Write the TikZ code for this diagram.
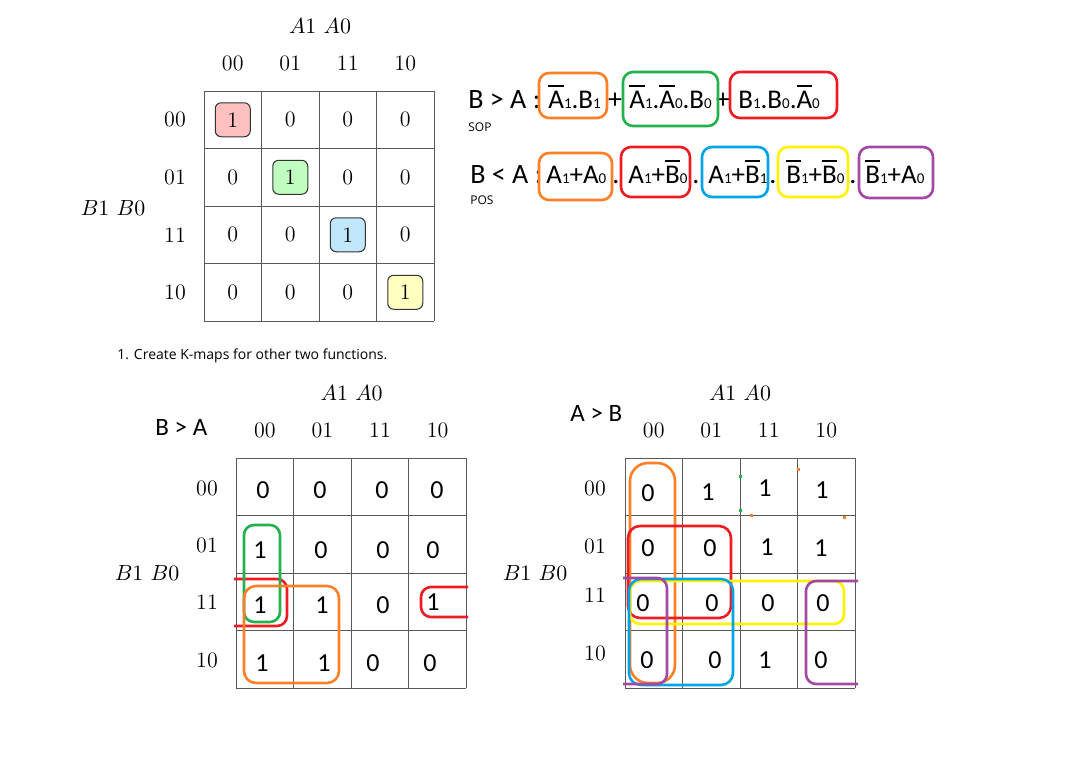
\documentclass[tikz,border=0pt]{standalone}
\usepackage{fontspec}
\newfontfamily\calfont{Carlito}
\newfontfamily\segfont{Open Sans}
\definecolor{orangeL}{RGB}{255,127,39}
\definecolor{greenL}{RGB}{34,177,76}
\definecolor{redL}{RGB}{237,28,36}
\definecolor{blueL}{RGB}{0,162,232}
\definecolor{yellowL}{RGB}{255,242,0}
\definecolor{purpleL}{RGB}{163,73,164}
\definecolor{pinkF}{RGB}{255,192,192}
\definecolor{greenF}{RGB}{192,255,192}
\definecolor{blueF}{RGB}{192,232,250}
\definecolor{yellowF}{RGB}{255,255,192}
\newcommand{\ob}[1]{\setbox0=\hbox{#1}\rlap{\raisebox{\dimexpr\ht0+1.6pt\relax}{\rule{\wd0}{1pt}}}\box0}
\newcommand{\sd}[1]{{\fontsize{7.5}{8}\selectfont #1}}
\begin{document}
\begin{tikzpicture}[x=0.5pt,y=-0.5pt,
 gridline/.style={draw=black!65,line width=0.5pt},
 lm/.style={font=\fontsize{11}{13}\selectfont,inner sep=0pt},
 sv/.style={font=\calfont\fontsize{13}{15}\selectfont,inner sep=0pt},
 fm/.style={font=\calfont\fontsize{13.5}{16}\selectfont,inner sep=0pt,anchor=base west},
 lbl/.style={font=\calfont\fontsize{14}{17}\selectfont,inner sep=0pt,anchor=base west},
 sepr/.style={font=\calfont\fontsize{14}{17}\selectfont,inner sep=0pt,anchor=base},
 smalltxt/.style={font=\segfont\fontsize{6}{7}\selectfont,inner sep=0pt,anchor=west},
 title/.style={font=\calfont\fontsize{12.5}{15}\selectfont,inner sep=0pt,anchor=west},
 loopln/.style={line width=1.3pt,rounded corners=5pt},
 hl/.style={draw=black!80,line width=0.5pt,rounded corners=3pt,minimum width=17.5pt,minimum height=17pt,inner sep=0pt,font=\fontsize{11}{13}\selectfont},
 dot/.style={inner sep=0pt,minimum size=1.5pt},
]
\useasboundingbox (0,0) rectangle (1072,767);

% ---------------- top-left K-map
\foreach \i in {0,...,4} {
  \draw[gridline] ({204+57.5*\i},91) -- ({204+57.5*\i},321);
  \draw[gridline] (204,{91+57.5*\i}) -- (434,{91+57.5*\i});
}
\foreach \h [count=\k from 0] in {00,01,11,10} {
  \node[lm] (tc\k) at ({232.75+57.5*\k},63) {\h};
  \node[lm] (tr\k) at (175,{119.75+57.5*\k}) {\h};
}
\node[lm] (tA) at (320,26) {$A1\ A0$};
\node[lm] (tB) at (113,208) {$B1\ B0$};
\foreach \r in {0,...,3} \foreach \c in {0,...,3} {
  \ifnum\r=\c\relax\else
  \node[lm] (t\r\c) at ({232.75+57.5*\c},{119.75+57.5*\r}) {0};
  \fi
}
\node[hl,fill=pinkF] (t00) at (232.75,119.75) {1};
\node[hl,fill=greenF] (t11) at (290.25,177.25) {1};
\node[hl,fill=blueF] (t22) at (347.75,234.75) {1};
\node[hl,fill=yellowF] (t33) at (405.25,292.25) {1};

% ---------------- formulas
\node[lbl] (f1) at (468,108) {B > A :};
\node[fm] (f1a) at (548,108) {\ob{A}\sd{1}.B\sd{1}};
\node[sepr] (f1p1) at (615,108) {+};
\node[fm] (f1b) at (629,108) {\ob{A}\sd{1}.\ob{A}\sd{0}.B\sd{0}};
\node[sepr] (f1p2) at (723,108) {+};
\node[fm] (f1c) at (738,108) {B\sd{1}.B\sd{0}.\ob{A}\sd{0}};
\node[smalltxt] (sop) at (468,127) {SOP};
\draw[loopln,orangeL] (539,73) rectangle (607,118);
\draw[loopln,greenL] (623,72) rectangle (718,126);
\draw[loopln,redL] (730,72) rectangle (837,118);

\node[lbl] (f2) at (470,183) {B < A :};
\node[fm] (f2a) at (546,183) {A\sd{1}+A\sd{0}};
\node[sepr] (f2d1) at (616,183) {.};
\node[fm] (f2b) at (628,183) {A\sd{1}+\ob{B}\sd{0}};
\node[sepr] (f2d2) at (696,183) {.};
\node[fm] (f2c) at (708,183) {A\sd{1}+\ob{B}\sd{1}};
\node[sepr] (f2d3) at (773,183) {.};
\node[fm] (f2e) at (786,183) {\ob{B}\sd{1}+\ob{B}\sd{0}};
\node[sepr] (f2d4) at (853,183) {.};
\node[fm] (f2f) at (865,183) {\ob{B}\sd{1}+A\sd{0}};
\node[smalltxt] (pos) at (470,200) {POS};
\draw[loopln,orangeL] (539,153) rectangle (612,200);
\draw[loopln,redL] (621,147) rectangle (690,197);
\draw[loopln,blueL] (702,147) rectangle (768,197);
\draw[loopln,yellowL] (778,147) rectangle (848,197);
\draw[loopln,purpleL] (859,147) rectangle (933,198);

% ---------------- instruction
\node[font=\segfont\fontsize{7}{8}\selectfont,inner sep=0pt,anchor=west] (instr) at (117,356) {1. Create K-maps for other two functions.};

% ---------------- bottom-left K-map (B > A)
\foreach \i in {0,...,4} {
  \draw[gridline] ({236+57.6*\i},458) -- ({236+57.6*\i},688.4);
  \draw[gridline] (236,{458+57.6*\i}) -- (466.4,{458+57.6*\i});
}
\foreach \h [count=\k from 0] in {00,01,11,10} {
  \node[lm] (lc\k) at ({264.8+57.6*\k},430) {\h};
}
\node[lm] (lr0) at (207,488) {00};
\node[lm] (lr1) at (207,545) {01};
\node[lm] (lr2) at (207,602) {11};
\node[lm] (lr3) at (207,660) {10};
\node[lm] (lA) at (351.7,393) {$A1\ A0$};
\node[lm] (lB) at (147,573) {$B1\ B0$};
\node[title] (lT) at (155,427) {B > A};
\foreach \x/\y/\v [count=\k] in {263/490/0,320/490/0,382/490/0,437/490/0,
  260/550/1,321/550/0,383/550/0,433/550/0,
  260/605/1,322/605/1,383/605/0,433/602/1,
  262/663/1,324/663/1,373/663/0,430/663/0} {
  \node[sv] (lv\k) at (\x,\y) {\v};
}
\draw[loopln,redL] (234,579) -- (287,579) -- (287,626) -- (234,626);
\draw[loopln,redL] (468,587) -- (421,587) -- (421,617) -- (468,617);
\draw[loopln,greenL] (244,525) rectangle (280,622);
\draw[loopln,orangeL,rounded corners=6pt] (244,586) rectangle (339,683);

% ---------------- bottom-right K-map (A > B)
\foreach \i in {0,...,4} {
  \draw[gridline] ({625+57.5*\i},458) -- ({625+57.5*\i},688);
  \draw[gridline] (625,{458+57.5*\i}) -- (855,{458+57.5*\i});
}
\foreach \h [count=\k from 0] in {00,01,11,10} {
  \node[lm] (rc\k) at ({653.75+57.5*\k},430) {\h};
}
\node[lm] (rr0) at (595,488) {00};
\node[lm] (rr1) at (595,546) {01};
\node[lm] (rr2) at (595,595) {11};
\node[lm] (rr3) at (595,653) {10};
\node[lm] (rA) at (740,393) {$A1\ A0$};
\node[lm] (rB) at (535,573) {$B1\ B0$};
\node[title] (rT) at (570,413) {A > B};
\foreach \x/\y/\v [count=\k] in {648/493/0,708/492/1,765/488/1,822/490/1,
  648/548/0,710/548/0,767/547/1,821/548/1,
  643/603/0,712/603/0,768/603/0,823/603/0,
  647/660/0,715/660/0,765/660/1,821/660/0} {
  \node[sv] (rv\k) at (\x,\y) {\v};
}
\draw[loopln,orangeL,rounded corners=9pt] (630,463) rectangle (675,683);
\draw[loopln,redL,rounded corners=6pt] (628,526) rectangle (731,618);
\draw[loopln,yellowL] (630,581) rectangle (844,624);
\draw[loopln,blueL,rounded corners=6pt] (629,579) rectangle (733,685);
\draw[loopln,purpleL] (623,578) -- (667,578) -- (667,684) -- (623,684);
\draw[loopln,purpleL] (858,581) -- (806,581) -- (806,684) -- (858,684);
% stray specks
\node[dot,fill=greenL] (s1) at (740,476) {};
\node[dot,fill=greenL] (s2) at (740,510) {};
\node[dot,fill=orangeL] (s3) at (798,469) {};
\node[dot,fill=orangeL] (s4) at (751,515) {};
\node[dot,fill=orangeL] (s5) at (844,517) {};
\end{tikzpicture}
\end{document}
